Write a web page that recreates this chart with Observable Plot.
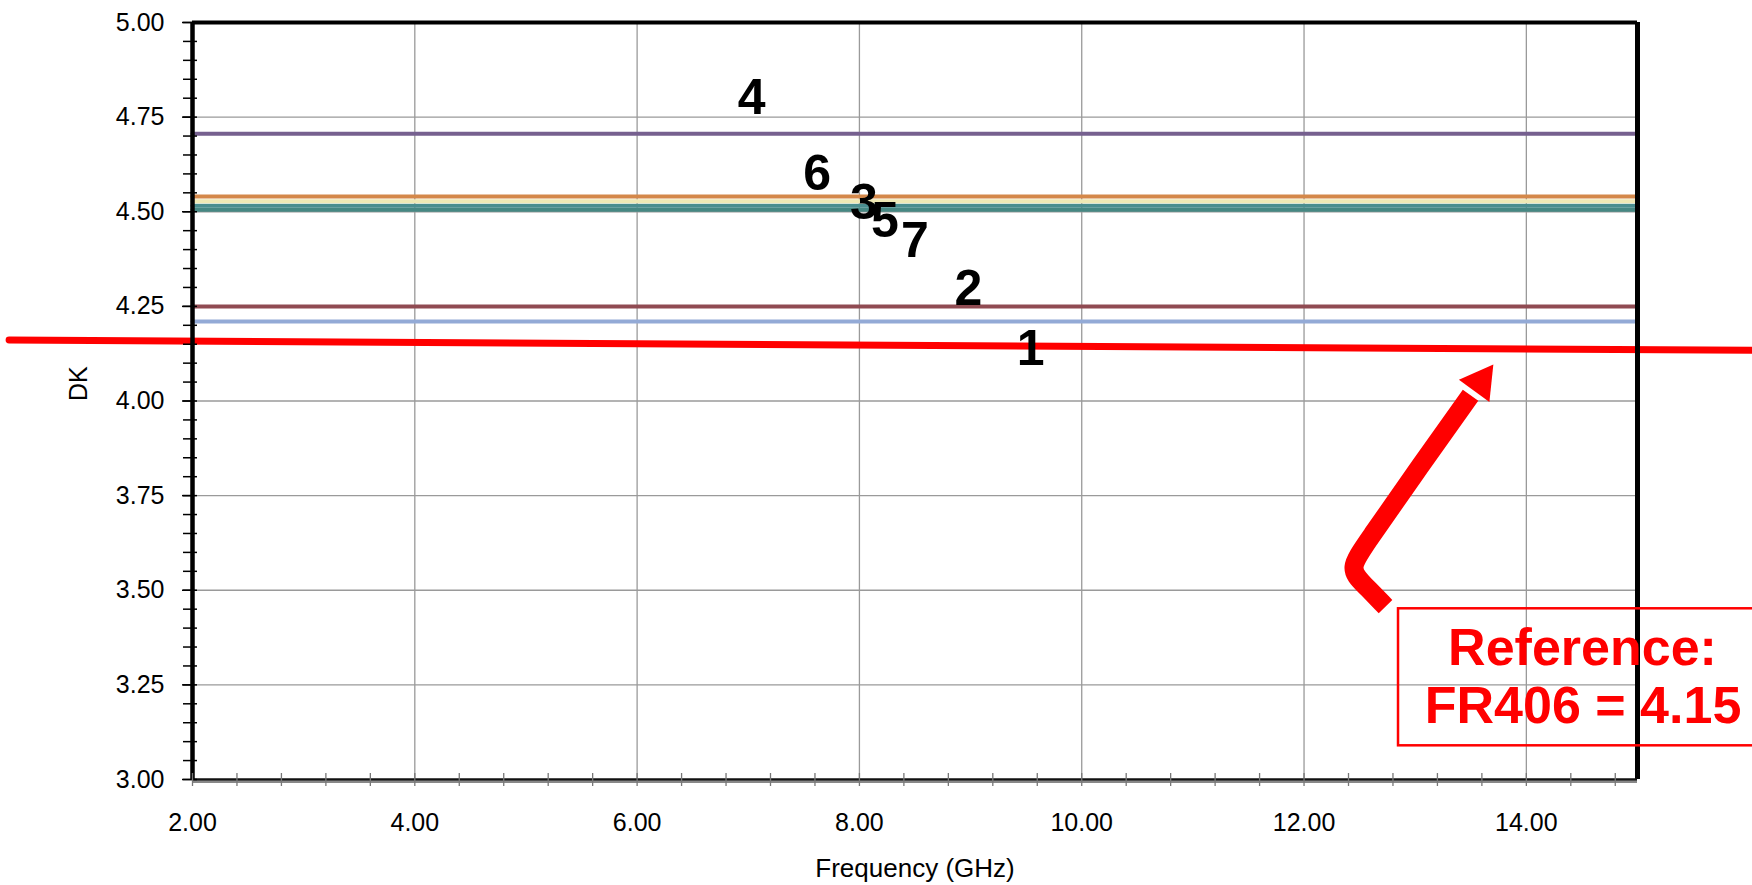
<!DOCTYPE html>
<html>
<head>
<meta charset="utf-8">
<script src="https://cdn.jsdelivr.net/npm/d3@7"></script>
<script src="https://cdn.jsdelivr.net/npm/@observablehq/plot@0.6"></script>
<style>
html, body { margin: 0; padding: 0; background: #fff; overflow: hidden; }
#chart svg { display: block; }
</style>
</head>
<body>
<div id="chart"></div>
<script>
// ---- data ----
const frequencies = [2, 4, 6, 8, 10, 12, 14, 15];
const series1 = [4.21, 4.21, 4.21, 4.21, 4.21, 4.21, 4.21, 4.21];
const series2 = [4.25, 4.25, 4.25, 4.25, 4.25, 4.25, 4.25, 4.25];
const series3 = [4.528, 4.528, 4.528, 4.528, 4.528, 4.528, 4.528, 4.528];
const series4 = [4.706, 4.706, 4.706, 4.706, 4.706, 4.706, 4.706, 4.706];
const series5 = [4.516, 4.516, 4.516, 4.516, 4.516, 4.516, 4.516, 4.516];
const series6 = [4.54, 4.54, 4.54, 4.54, 4.54, 4.54, 4.54, 4.54];
const series7 = [4.505, 4.505, 4.505, 4.505, 4.505, 4.505, 4.505, 4.505];

const seriesNames = ["1", "2", "3", "4", "5", "6", "7"];
const seriesColors = ["#93AAD6", "#904B52", "#EFE9B5", "#76608F", "#4A8E8F", "#D4884A", "#468883"];
const drawOrder = ["1", "2", "5", "7", "3", "6", "4"];

// series number labels (x in GHz, baseline y in DK)
const labelX = [9.54, 8.98, 8.04, 7.03, 8.23, 7.62, 8.50];
const labelY = [4.095, 4.253, 4.480, 4.757, 4.433, 4.557, 4.380];

// axes
const xTickValues = [2, 4, 6, 8, 10, 12, 14];
const xTickLabels = ["2.00", "4.00", "6.00", "8.00", "10.00", "12.00", "14.00"];
const yTickValues = [3, 3.25, 3.5, 3.75, 4, 4.25, 4.5, 4.75, 5];
const yTickLabels = ["3.00", "3.25", "3.50", "3.75", "4.00", "4.25", "4.50", "4.75", "5.00"];
const xGridValues = [4, 6, 8, 10, 12, 14];
const yGridValues = [3.25, 3.5, 3.75, 4, 4.25, 4.5, 4.75];
const xTitle = "Frequency (GHz)";
const yTitle = "DK";

// annotation: reference line, arrow, box
const refLineX = [0.35, 16.04];
const refLineY = [4.161, 4.134];
const arrowX = [12.733, 12.533, 12.400, 12.565, 13.048, 13.498];
const arrowY = [3.457, 3.517, 3.557, 3.626, 3.830, 4.015];
const arrowHeadX = [13.588];
const arrowHeadY = [4.050];
const boxX = [12.85, 16.6];
const boxY = [3.089, 3.451];
const boxText = ["Reference:", "FR406 = 4.15"];
const boxTextX = [14.505, 14.51];
const boxTextY = [3.303, 3.150];

// ---- build ----
const allSeries = [series1, series2, series3, series4, series5, series6, series7];
const rows = [];
seriesNames.forEach((s, i) => {
  frequencies.forEach((f, j) => rows.push({series: s, freq: f, dk: allSeries[i][j]}));
});
const colorOf = Object.fromEntries(seriesNames.map((s, i) => [s, seriesColors[i]]));

const minorX = d3.range(2, 14.81, 0.4);
const minorY = d3.range(3, 5.001, 0.05);

const font = "'Liberation Sans', Arial, Helvetica, sans-serif";

const lineMarks = drawOrder.map(s =>
  Plot.line(rows.filter(r => r.series === s), {x: "freq", y: "dk", stroke: colorOf[s], strokeWidth: 4})
);

const chart = Plot.plot({
  width: 1752,
  height: 885,
  marginLeft: 192,
  marginRight: 115,
  marginTop: 22,
  marginBottom: 106,
  style: {fontFamily: font, background: "#fff", overflow: "visible"},
  x: {domain: [2, 15]},
  y: {domain: [3, 5]},
  marks: [
    Plot.gridX(xGridValues, {stroke: "#9a9a9a", strokeOpacity: 1, strokeWidth: 1.3}),
    Plot.gridY(yGridValues, {stroke: "#9a9a9a", strokeOpacity: 1, strokeWidth: 1.3}),
    ...lineMarks,
    // red reference line
    Plot.line(refLineX.map((x, i) => ({x, y: refLineY[i]})), {x: "x", y: "y", stroke: "#ff0000", strokeWidth: 7}),
    // frame
    Plot.ruleY([5], {stroke: "#000", strokeWidth: 4}),
    Plot.ruleX([15], {stroke: "#000", strokeWidth: 5}),
    Plot.ruleY([3], {stroke: "#111", strokeWidth: 2.5}),
    Plot.ruleY([3], {stroke: "#888", strokeWidth: 2, dy: 2.5}),
    Plot.ruleX([2], {stroke: "#000", strokeWidth: 4.5}),
    // ticks
    Plot.axisY({ticks: minorY, tickSize: 14, dx: 5, text: null, label: null, stroke: "#000", strokeWidth: 1.5}),
    Plot.axisY({ticks: yTickValues, tickSize: 10, text: null, label: null, stroke: "#000", strokeWidth: 1.5}),
    Plot.axisX({ticks: minorX, tickSize: 13, dy: -6, text: null, label: null, stroke: "#777", strokeWidth: 1.3}),
    // tick labels
    Plot.axisY({ticks: yTickValues, tickSize: 0, tickPadding: 28, label: null,
      tickFormat: d => yTickLabels[yTickValues.indexOf(d)], fontSize: 25, fill: "#000"}),
    Plot.axisX({ticks: xTickValues, tickSize: 0, tickPadding: 34, label: null,
      tickFormat: d => xTickLabels[xTickValues.indexOf(d)], fontSize: 25, fill: "#000"}),
    // axis titles
    Plot.text([yTitle], {frameAnchor: "left", dx: -114, rotate: -90, fontSize: 25, fill: "#000"}),
    Plot.text([xTitle], {frameAnchor: "bottom", dy: 89, lineAnchor: "middle", fontSize: 26, fill: "#000"}),
    // series number labels
    Plot.text(seriesNames, {x: labelX, y: labelY, text: d => d, lineAnchor: "bottom", textAnchor: "middle",
      fontSize: 50, fontWeight: "bold", fill: "#000"}),
    // arrow
    Plot.line(arrowX.map((x, i) => ({x, y: arrowY[i]})), {x: "x", y: "y", curve: "basis", stroke: "#ff0000",
      strokeWidth: 19, strokeLinejoin: "round", strokeLinecap: "butt"}),
    Plot.dot(arrowHeadX.map((x, i) => ({x, y: arrowHeadY[i]})), {x: "x", y: "y", symbol: "triangle", r: 14,
      rotate: 36, fill: "#ff0000", stroke: "none"}),
    // box
    Plot.rect([{x1: boxX[0], x2: boxX[1], y1: boxY[0], y2: boxY[1]}], {x1: "x1", x2: "x2", y1: "y1", y2: "y2",
      fill: "none", stroke: "#ff0000", strokeWidth: 2.5}),
    Plot.text(boxText, {x: boxTextX, y: boxTextY, text: d => d, lineAnchor: "bottom", textAnchor: "middle",
      fontSize: 52, fontWeight: "bold", fill: "#ff0000"})
  ]
});
document.getElementById("chart").appendChild(chart);
</script>
</body>
</html>
